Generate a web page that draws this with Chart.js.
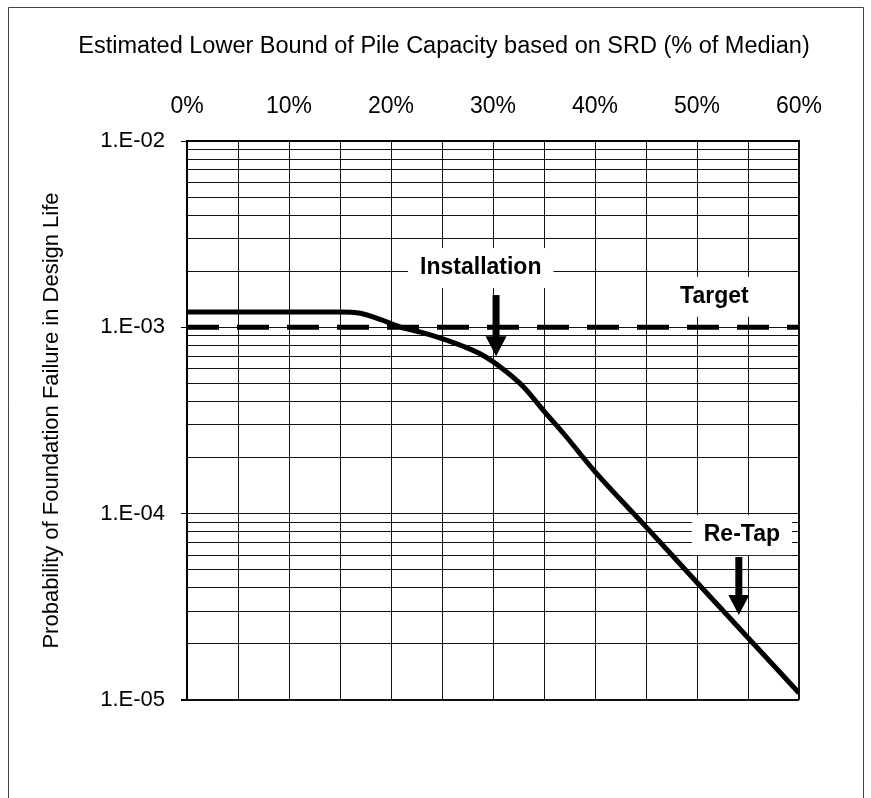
<!DOCTYPE html>
<html><head><meta charset="utf-8">
<script src="https://cdn.jsdelivr.net/npm/chart.js@4.4.1/dist/chart.umd.min.js"></script>
<style>html,body{margin:0;padding:0;background:#fff;}canvas{display:block;}</style>
</head><body>
<canvas id="c" width="871" height="798" style="width:871px;height:798px"></canvas>
<script>
// ---- data ----
const capacityPct = [0, 15, 17, 19, 21, 23, 25, 27, 29, 31, 33, 35, 37, 40, 45, 50, 55, 60];
const failureProb = [1.21e-3, 1.21e-3, 1.19e-3, 1.10e-3, 1.0e-3, 9.4e-4, 8.7e-4, 7.94e-4, 7.08e-4, 5.96e-4, 4.79e-4, 3.55e-4, 2.66e-4, 1.68e-4, 8.5e-5, 4.27e-5, 2.16e-5, 1.09e-5];
const targetPct = [0, 60];
const targetProb = [1e-3, 1e-3];
const xTickValues = [0, 5, 10, 15, 20, 25, 30, 35, 40, 45, 50, 55, 60];
const yGridValues = [1e-5, 2e-5, 3e-5, 4e-5, 5e-5, 6e-5, 7e-5, 8e-5, 9e-5,
                     1e-4, 2e-4, 3e-4, 4e-4, 5e-4, 6e-4, 7e-4, 8e-4, 9e-4,
                     1e-3, 2e-3, 3e-3, 4e-3, 5e-3, 6e-3, 7e-3, 8e-3, 9e-3, 1e-2];
const chartTitle = 'Estimated Lower Bound of Pile Capacity based on SRD (% of Median)';
const yAxisTitle = 'Probability of Foundation Failure in Design Life';
const noteTexts = ['Installation', 'Target', 'Re-Tap'];
const notePct = [28.8, 51.7, 54.4];
const noteProb = [2.08e-3, 1.46e-3, 7.67e-5];
const arrowPct = [30.3, 54.1];
const arrowFromProb = [1.49e-3, 5.85e-5];
const arrowToProb = [7.0e-4, 2.86e-5];

// ---- styles ----
const FONT = '"Liberation Sans", Arial, Helvetica, sans-serif';
const isDecade = v => Math.abs(Math.log10(v) - Math.round(Math.log10(v))) < 1e-9;
const fmtDecade = v => { const e = Math.round(Math.log10(v)); const a = Math.abs(e); return '1.E' + (e < 0 ? '-' : '+') + (a < 10 ? '0' : '') + a; };

const decor = {
  id: 'decor',
  beforeDraw(chart) {
    const ctx = chart.ctx;
    ctx.save();
    ctx.fillStyle = '#fff';
    ctx.fillRect(0, 0, chart.width, chart.height);
    ctx.strokeStyle = '#444';
    ctx.lineWidth = 1;
    ctx.beginPath();
    ctx.moveTo(8.5, chart.height); ctx.lineTo(8.5, 7.5); ctx.lineTo(863.5, 7.5); ctx.lineTo(863.5, chart.height);
    ctx.stroke();
    ctx.fillStyle = '#000';
    ctx.font = '23.5px ' + FONT;
    ctx.textAlign = 'center';
    ctx.textBaseline = 'middle';
    ctx.fillText(chartTitle, 444, 47);
    ctx.restore();
  },
  beforeDatasetsDraw(chart) {
    const ctx = chart.ctx, xs = chart.scales.x, ys = chart.scales.y;
    ctx.save();
    ctx.font = 'bold 23px ' + FONT;
    ctx.fillStyle = '#fff';
    noteTexts.forEach((t, i) => {
      const cx = xs.getPixelForValue(notePct[i]), cy = ys.getPixelForValue(noteProb[i]);
      const w = ctx.measureText(t).width + 24;
      ctx.fillRect(cx - w / 2, cy - 20, w, 40);
    });
    ctx.restore();
  },
  afterDatasetsDraw(chart) {
    const ctx = chart.ctx, xs = chart.scales.x, ys = chart.scales.y;
    ctx.save();
    ctx.fillStyle = '#000';
    ctx.font = 'bold 23px ' + FONT;
    ctx.textAlign = 'center';
    ctx.textBaseline = 'middle';
    noteTexts.forEach((t, i) => {
      ctx.fillText(t, xs.getPixelForValue(notePct[i]), ys.getPixelForValue(noteProb[i]));
    });
    arrowPct.forEach((p, i) => {
      const x = xs.getPixelForValue(p);
      const y0 = ys.getPixelForValue(arrowFromProb[i]);
      const y1 = ys.getPixelForValue(arrowToProb[i]);
      const head = 20, hw = 10.5, sw = 7;
      ctx.fillRect(x - sw / 2, y0, sw, (y1 - head) - y0 + 1);
      ctx.beginPath();
      ctx.moveTo(x - hw, y1 - head); ctx.lineTo(x + hw, y1 - head); ctx.lineTo(x, y1); ctx.closePath();
      ctx.fill();
    });
    ctx.restore();
  }
};

new Chart(document.getElementById('c'), {
  type: 'line',
  data: {
    datasets: [
      {
        label: 'Probability',
        data: capacityPct.map((x, i) => ({ x, y: failureProb[i] })),
        borderColor: '#000', borderWidth: 5, pointRadius: 0, borderJoinStyle: 'round',
        cubicInterpolationMode: 'monotone', fill: false, order: 1
      },
      {
        label: 'Target',
        data: targetPct.map((x, i) => ({ x, y: targetProb[i] })),
        borderColor: '#000', borderWidth: 5, borderDash: [32, 18], pointRadius: 0,
        fill: false, order: 2
      }
    ]
  },
  options: {
    responsive: false, animation: false, devicePixelRatio: 1,
    layout: { padding: { top: 0, left: 20, right: 72, bottom: 98 } },
    plugins: { legend: { display: false }, tooltip: { enabled: false }, title: { display: false } },
    scales: {
      x: {
        type: 'linear', position: 'top', min: 0, max: 60,
        afterBuildTicks: s => { s.ticks = xTickValues.map(v => ({ value: v })); },
        afterFit: s => { s.height = 141; },
        ticks: {
          autoSkip: false, maxRotation: 0, padding: 21, color: '#000',
          font: { family: FONT, size: 23 },
          callback: v => (v % 10 === 0 ? v + '%' : '')
        },
        grid: {
          drawTicks: false, color: '#111',
          lineWidth: c => (c.tick && c.tick.value === 60 ? 2 : 1)
        },
        border: { display: true, color: '#000', width: 2 }
      },
      y: {
        type: 'logarithmic', position: 'left', min: 1e-5, max: 1e-2,
        afterBuildTicks: s => { s.ticks = yGridValues.map(v => ({ value: v, major: isDecade(v) })); },
        afterFit: s => { s.width = 167; },
        ticks: {
          autoSkip: false, padding: 16, color: '#000',
          font: { family: FONT, size: 22 },
          callback: v => (isDecade(v) ? fmtDecade(v) : '')
        },
        grid: {
          drawTicks: true, tickLength: 6, color: '#111',
          tickColor: c => (c.tick && isDecade(c.tick.value) ? '#000' : 'rgba(0,0,0,0)'),
          lineWidth: c => (c.tick && Math.abs(c.tick.value - 1e-5) < 1e-12 ? 2 : 1)
        },
        border: { display: true, color: '#000', width: 2 },
        title: {
          display: true, text: yAxisTitle, color: '#000',
          font: { family: FONT, size: 22 }, padding: { top: 19, bottom: 0 }
        }
      }
    }
  },
  plugins: [decor]
});
</script>
</body></html>
